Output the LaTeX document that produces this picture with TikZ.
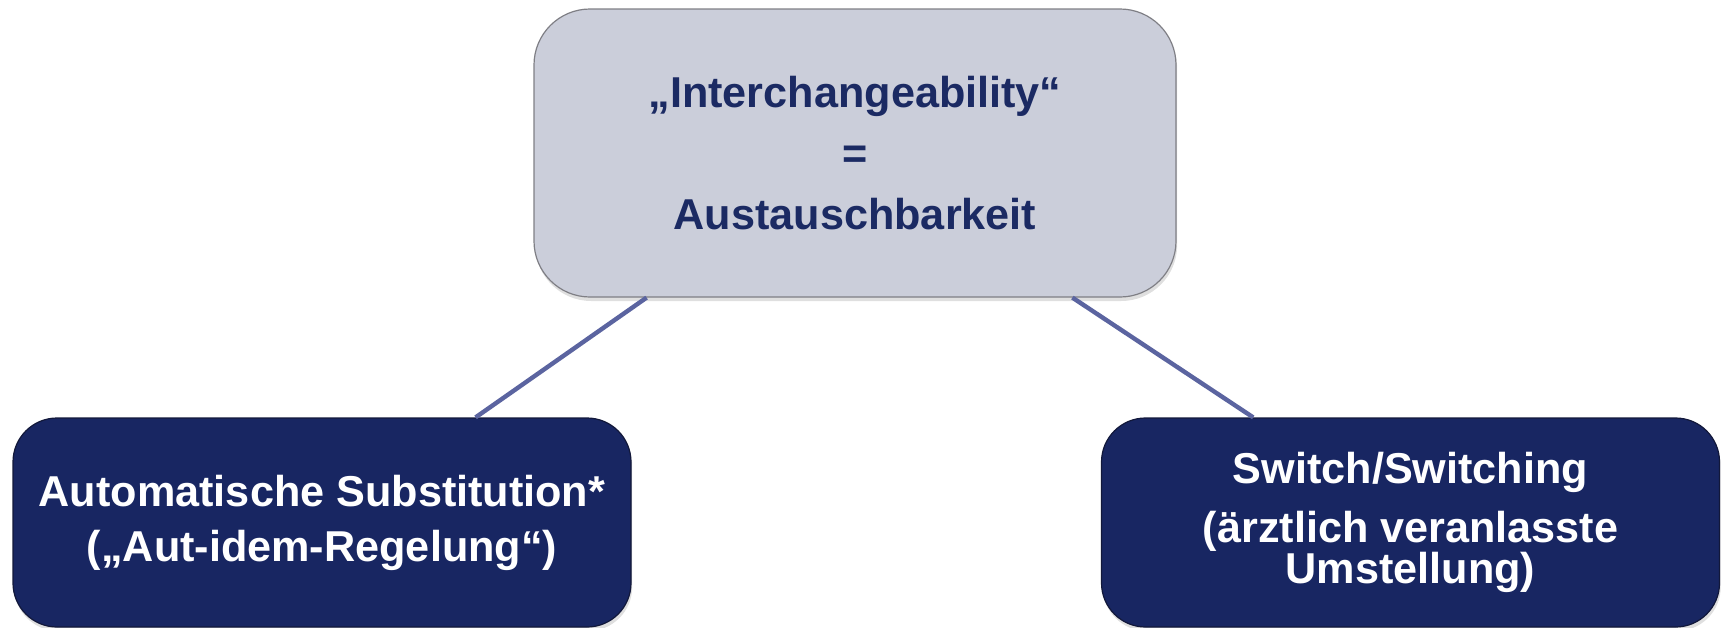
\documentclass[tikz,border=0pt]{standalone}
\usepackage{fontspec}
\setmainfont{Liberation Sans}
\usepackage{xcolor}
\usetikzlibrary{calc, shadows}
\definecolor{cTop}{HTML}{CBCEDA}
\definecolor{cTopLine}{HTML}{7F7F85}
\definecolor{cNavy}{HTML}{1B2A63}
\definecolor{cBox}{HTML}{182662}
\definecolor{cBoxLine}{HTML}{12183A}
\definecolor{cLink}{HTML}{5B64A0}

\begin{document}
\begin{tikzpicture}[
  x=0.5pt, y=-0.5pt,
  topbox/.style={rectangle, rounded corners=28pt, draw=cTopLine, line width=0.6pt, fill=cTop,
    minimum width=321pt, minimum height=144pt, text=cNavy, align=center,
    font=\fontsize{21.6}{30.5}\selectfont\bfseries,
    drop shadow={shadow xshift=0.6pt, shadow yshift=-2pt, opacity=0.25}},
  subbox/.style={rectangle, rounded corners=22pt, draw=cBoxLine, line width=0.6pt, fill=cBox,
    minimum width=309pt, minimum height=104.5pt, text=white, align=center,
    drop shadow={shadow xshift=0.6pt, shadow yshift=-2pt, opacity=0.25}},
  link/.style={draw=cLink, line width=2.2pt}
]
\useasboundingbox (0,0) rectangle (1727,627);

\node[topbox] (top) at (855,153) {„Interchangeability“\\=\\Austauschbarkeit};
\node[subbox, font=\fontsize{21.6}{27.5}\selectfont\bfseries] (aut) at (322,522.5)
  {Automatische Substitution*\\(„Aut-idem-Regelung“)};
\node[subbox, font=\fontsize{21.6}{20.5}\selectfont\bfseries] (sw) at (1410.5,522.5)
  {Switch/Switching\\[9pt](ärztlich veranlasste\\Umstellung)};

\coordinate (topL) at ($(top.south west)!0.176!(top.south east)$);
\coordinate (topR) at ($(top.south west)!0.838!(top.south east)$);
\coordinate (autN) at ($(aut.north west)!0.748!(aut.north east)$);
\coordinate (swN) at ($(sw.north west)!0.246!(sw.north east)$);

\draw[link] (topL) -- (autN);
\draw[link] (topR) -- (swN);
\end{tikzpicture}
\end{document}
